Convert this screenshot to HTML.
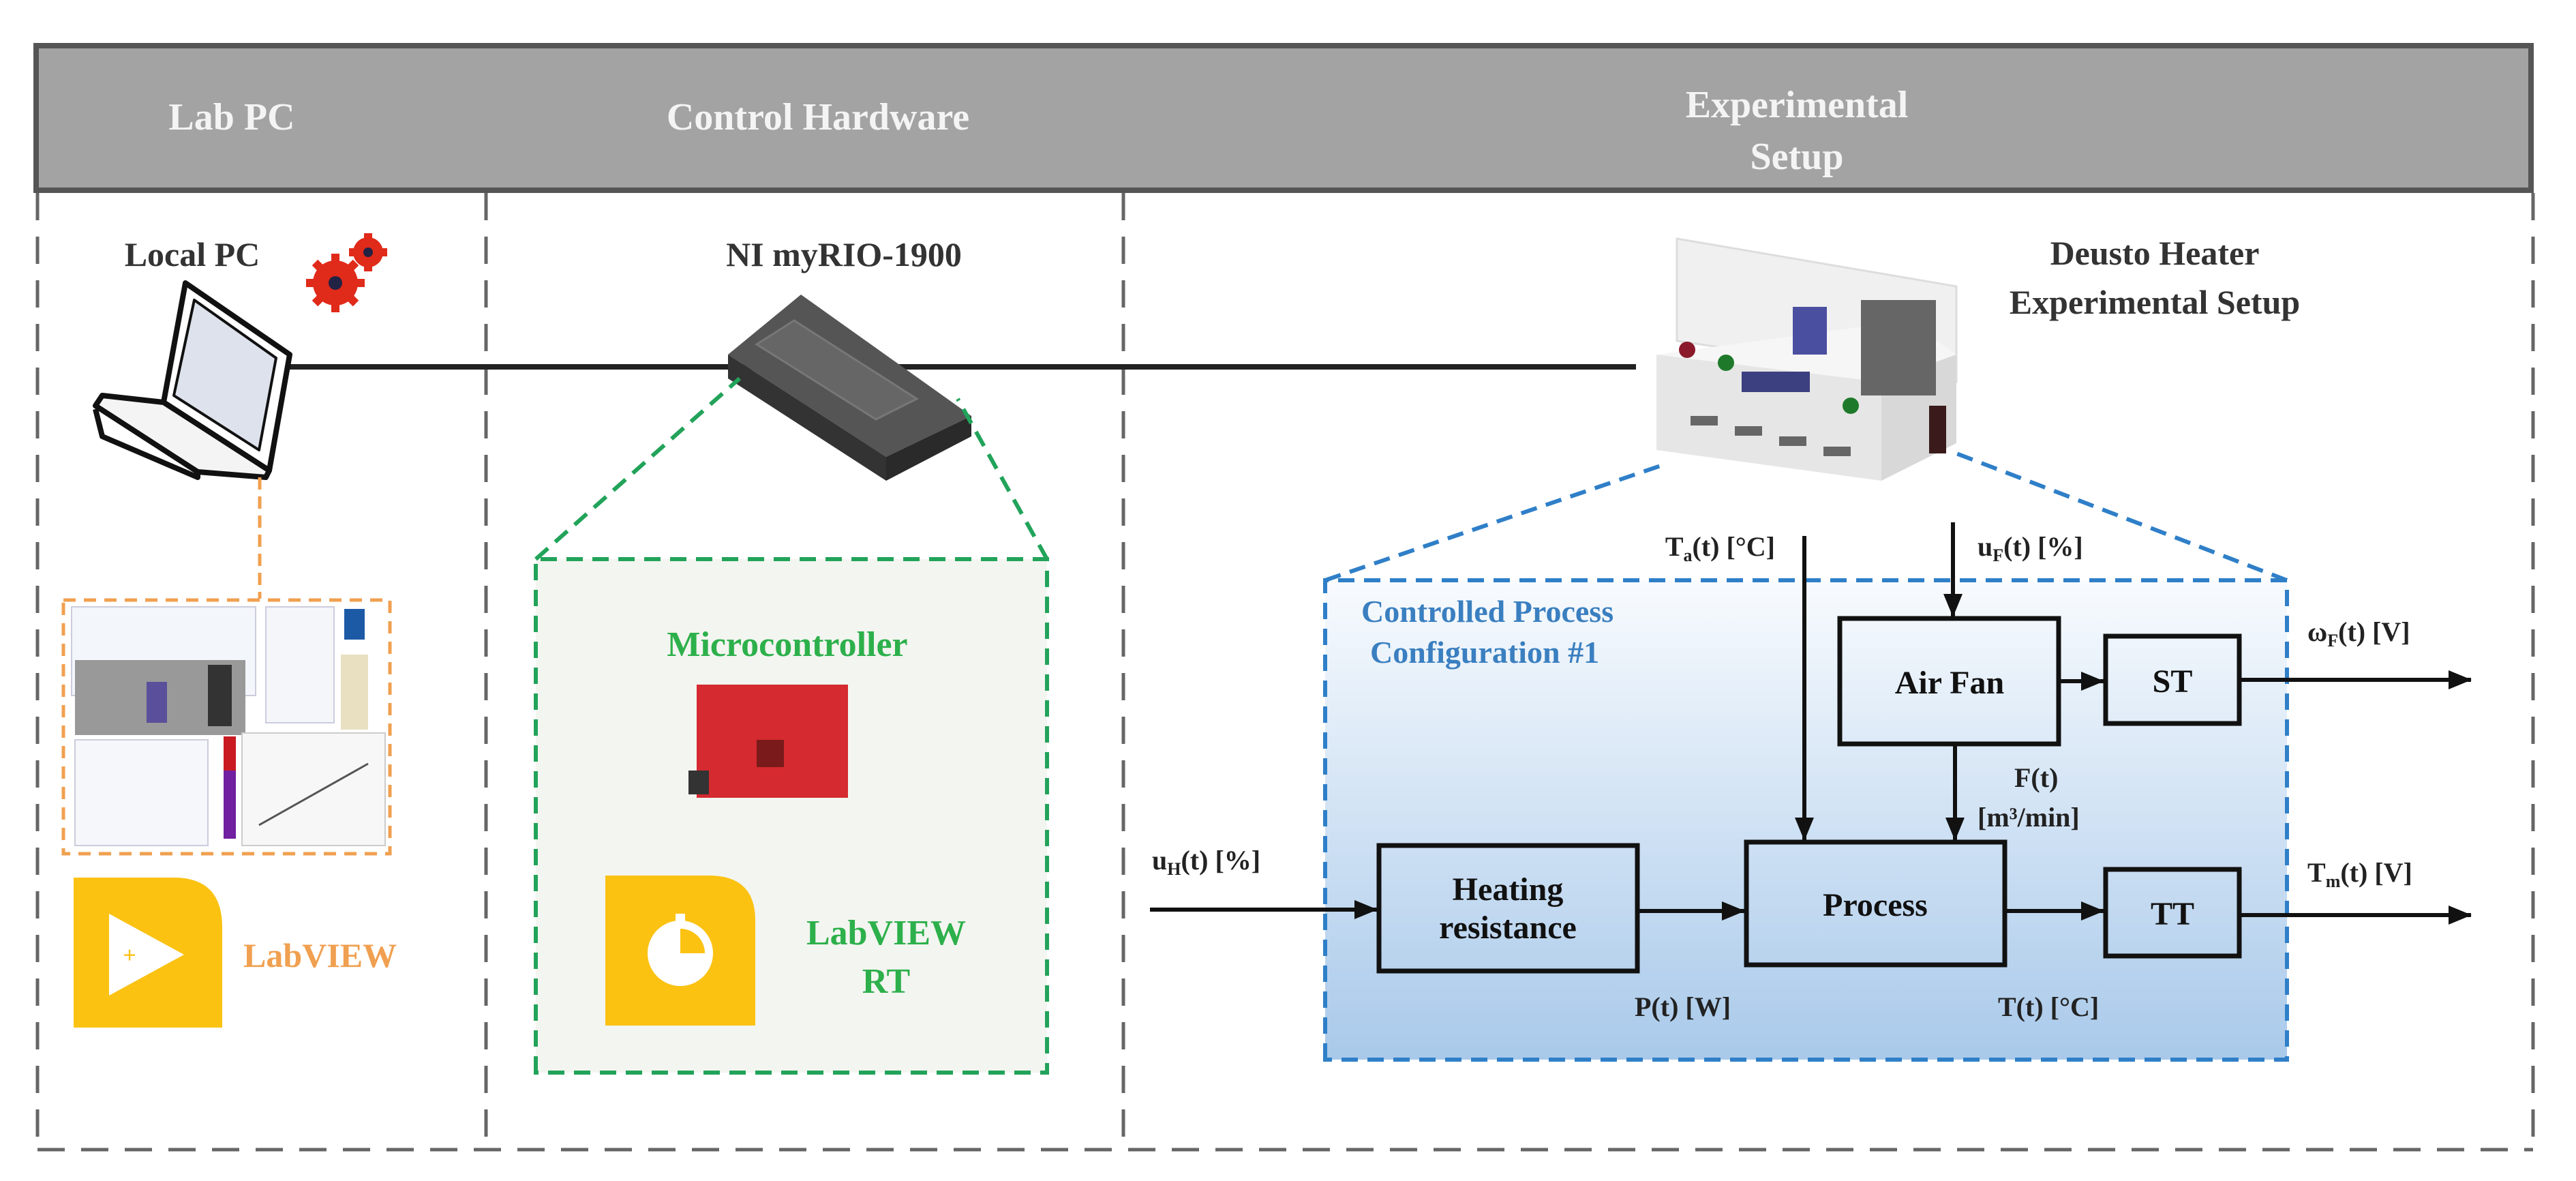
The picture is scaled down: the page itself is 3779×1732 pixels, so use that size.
<!DOCTYPE html>
<html><head><meta charset="utf-8"><style>html,body{margin:0;padding:0;background:#fff}svg{display:block}</style></head>
<body>
<svg width="3779" height="1732" viewBox="0 0 3779 1732" xmlns="http://www.w3.org/2000/svg" font-family="Liberation Serif, serif" font-weight="bold">
<defs>
<linearGradient id="bg" x1="0" y1="0" x2="0" y2="1"><stop offset="0" stop-color="#f8fbfe"/><stop offset="1" stop-color="#a9c9ea"/></linearGradient>
<marker id="ar" markerWidth="34" markerHeight="28" refX="33" refY="14" orient="auto" markerUnits="userSpaceOnUse" viewBox="0 0 34 28"><path d="M0,0 L34,14 L0,28 z" fill="#111"/></marker>
</defs>
<!-- header -->
<rect x="53" y="67" width="3660" height="212" fill="#a3a3a3" stroke="#555" stroke-width="8"/>
<g fill="#f4f4f4" font-size="56" text-anchor="middle">
<text x="340" y="190">Lab PC</text>
<text x="1200" y="190">Control Hardware</text>
<text x="2636" y="172">Experimental</text>
<text x="2636" y="248">Setup</text>
</g>
<!-- frame dashed -->
<g stroke="#666" stroke-width="5" stroke-dasharray="40,24" fill="none">
<line x1="55" y1="283" x2="55" y2="1686"/>
<line x1="713" y1="283" x2="713" y2="1686"/>
<line x1="1648" y1="283" x2="1648" y2="1686"/>
<line x1="3716" y1="283" x2="3716" y2="1686"/>
<line x1="55" y1="1686" x2="3716" y2="1686"/>
</g>
<!-- connecting line -->
<line x1="415" y1="538" x2="2400" y2="538" stroke="#222" stroke-width="8"/>
<!-- labels top -->
<g fill="#333" font-size="50" text-anchor="middle">
<text x="282" y="390">Local PC</text>
<text x="1238" y="390">NI myRIO-1900</text>
<text x="3161" y="388">Deusto Heater</text>
<text x="3161" y="460">Experimental Setup</text>
</g>
<!-- gears -->
<g fill="#e02a1a">
<circle cx="492" cy="415" r="33"/><circle cx="540" cy="370" r="22"/>
<g stroke="#e02a1a" stroke-width="12"><line x1="492" y1="372" x2="492" y2="458"/><line x1="449" y1="415" x2="535" y2="415"/><line x1="462" y1="385" x2="522" y2="445"/><line x1="462" y1="445" x2="522" y2="385"/>
<line x1="540" y1="342" x2="540" y2="398"/><line x1="512" y1="370" x2="568" y2="370"/></g>
<circle cx="492" cy="415" r="10" fill="#224"/><circle cx="540" cy="370" r="7" fill="#224"/>
</g>
<!-- laptop -->
<g stroke="#111" stroke-width="8" fill="#fff" stroke-linejoin="round">
<path d="M272 415 L425 520 L395 690 L240 590 Z" fill="#fff"/>
<path d="M285 440 L405 525 L380 660 L255 580 Z" fill="#dde2ec" stroke-width="4"/>
<path d="M240 590 L395 690 L390 700 L290 692 L140 595 L150 580 Z" fill="#f4f4f4"/>
<path d="M140 600 L150 640 L290 700 L290 692" fill="none"/>
</g>
<!-- myRIO -->
<g>
<path d="M1175 432 L1425 610 L1300 670 L1068 520 Z" fill="#555"/>
<path d="M1068 520 L1300 670 L1300 705 L1068 555 Z" fill="#333"/>
<path d="M1300 670 L1425 610 L1425 640 L1300 705 Z" fill="#2a2a2a"/>
<path d="M1165 470 L1345 585 L1285 615 L1110 505 Z" fill="#666" stroke="#777" stroke-width="3"/>
</g>
<!-- orange -->
<line x1="381" y1="700" x2="381" y2="878" stroke="#f0a050" stroke-width="5" stroke-dasharray="18,10"/>
<rect x="93" y="880" width="479" height="372" fill="#fff" stroke="#f0a050" stroke-width="5" stroke-dasharray="18,12"/>
<g>
<rect x="105" y="890" width="270" height="130" fill="#f3f6fa" stroke="#ccd" stroke-width="2"/>
<rect x="110" y="968" width="250" height="110" fill="#999"/>
<rect x="215" y="1000" width="30" height="60" fill="#5a4f9a"/>
<rect x="305" y="975" width="35" height="90" fill="#333"/>
<rect x="390" y="890" width="100" height="170" fill="#f4f6fa" stroke="#ccd" stroke-width="2"/>
<rect x="505" y="893" width="30" height="45" fill="#1d5aa6"/>
<rect x="500" y="960" width="40" height="110" fill="#e8e0c0"/>
<rect x="110" y="1085" width="195" height="155" fill="#f5f7fa" stroke="#ccd" stroke-width="2"/>
<rect x="328" y="1080" width="18" height="150" fill="#7020a0"/>
<rect x="328" y="1080" width="18" height="50" fill="#c81a20"/>
<rect x="355" y="1075" width="210" height="165" fill="#f7f7f7" stroke="#ccc" stroke-width="2"/>
<line x1="380" y1="1210" x2="540" y2="1120" stroke="#555" stroke-width="3"/>
</g>
<path d="M108 1287 L255 1287 Q326 1287 326 1360 L326 1507 L108 1507 Z" fill="#fbc212"/>
<path d="M160 1340 L270 1400 L160 1460 Z" fill="#fff"/>
<text x="190" y="1412" fill="#fbc212" font-size="34" text-anchor="middle">+</text>
<text x="357" y="1418" fill="#f0a050" font-size="50">LabVIEW</text>
<!-- green -->
<rect x="786" y="820" width="750" height="753" fill="#f3f5f0"/>
<g stroke="#22a35a" stroke-width="6" stroke-dasharray="24,14" fill="none">
<path d="M786 1573 L786 820 L1536 820 L1536 1573 Z"/>
<line x1="786" y1="820" x2="1085" y2="555"/>
<line x1="1536" y1="820" x2="1405" y2="585"/>
</g>
<text x="1155" y="962" fill="#2db04b" font-size="52" text-anchor="middle">Microcontroller</text>
<rect x="1022" y="1004" width="222" height="166" fill="#d42a30"/>
<rect x="1010" y="1130" width="30" height="35" fill="#333"/>
<rect x="1110" y="1085" width="40" height="40" fill="#7a1a1a"/>
<path d="M888 1284 L1040 1284 Q1108 1284 1108 1350 L1108 1504 L888 1504 Z" fill="#fbc212"/>
<circle cx="998" cy="1398" r="48" fill="#fff"/><rect x="991" y="1340" width="14" height="14" fill="#fff"/>
<path d="M998 1398 L998 1362 A36 36 0 0 1 1034 1398 Z" fill="#fbc212"/>
<text x="1300" y="1385" fill="#2db04b" font-size="52" text-anchor="middle">LabVIEW</text>
<text x="1300" y="1456" fill="#2db04b" font-size="52" text-anchor="middle">RT</text>
<!-- blue -->
<rect x="1944" y="851" width="1411" height="703" fill="url(#bg)"/>
<g stroke="#2f7fc8" stroke-width="6" stroke-dasharray="24,14" fill="none">
<path d="M1944 1554 L1944 851 L3355 851 L3355 1554 Z"/>
<line x1="1944" y1="851" x2="2445" y2="680"/>
<line x1="3355" y1="851" x2="2870" y2="665"/>
</g>
<!-- heater device -->
<g>
<path d="M2460 350 L2870 420 L2870 560 L2460 500 Z" fill="#f0f0f0" stroke="#ddd" stroke-width="3"/>
<path d="M2430 520 L2760 560 L2760 705 L2430 660 Z" fill="#e6e6e6"/>
<path d="M2430 520 L2800 470 L2870 520 L2760 560 Z" fill="#f6f6f6"/>
<path d="M2760 560 L2870 520 L2870 650 L2760 705 Z" fill="#d8d8d8"/>
<rect x="2730" y="440" width="110" height="140" fill="#666"/>
<rect x="2630" y="450" width="50" height="70" fill="#4a4fa0"/>
<rect x="2555" y="545" width="100" height="30" fill="#3c3f80"/>
<circle cx="2475" cy="513" r="12" fill="#8a1a2a"/><circle cx="2532" cy="532" r="12" fill="#1e7a2a"/><circle cx="2715" cy="595" r="12" fill="#1e7a2a"/>
<g fill="#666"><rect x="2480" y="610" width="40" height="14"/><rect x="2545" y="625" width="40" height="14"/><rect x="2610" y="640" width="40" height="14"/><rect x="2675" y="655" width="40" height="14"/></g>
<rect x="2830" y="595" width="25" height="70" fill="#3a1a1a"/>
</g>
<!-- blocks -->
<g fill="none" stroke="#111" stroke-width="7">
<rect x="2699" y="907" width="321" height="184"/>
<rect x="3089" y="933" width="196" height="128"/>
<rect x="2023" y="1240" width="379" height="184"/>
<rect x="2562" y="1235" width="379" height="180"/>
<rect x="3089" y="1275" width="196" height="127"/>
</g>
<g stroke="#111" stroke-width="6" marker-end="url(#ar)">
<line x1="2647" y1="786" x2="2647" y2="1232"/>
<line x1="2865" y1="766" x2="2865" y2="904"/>
<line x1="2868" y1="1091" x2="2868" y2="1232"/>
<line x1="3020" y1="999" x2="3086" y2="999"/>
<line x1="3285" y1="997" x2="3625" y2="997"/>
<line x1="1687" y1="1334" x2="2020" y2="1334"/>
<line x1="2402" y1="1336" x2="2559" y2="1336"/>
<line x1="2941" y1="1336" x2="3086" y2="1336"/>
<line x1="3285" y1="1342" x2="3625" y2="1342"/>
</g>
<g fill="#111" font-size="48" text-anchor="middle">
<text x="2860" y="1017">Air Fan</text>
<text x="3187" y="1015">ST</text>
<text x="2212" y="1320">Heating</text>
<text x="2212" y="1376">resistance</text>
<text x="2751" y="1343">Process</text>
<text x="3187" y="1356">TT</text>
</g>
<g fill="#222" font-size="40">
<text x="2604" y="815" text-anchor="end">T<tspan font-size="26" dy="8">a</tspan><tspan dy="-8">(t) [°C]</tspan></text>
<text x="2901" y="815">u<tspan font-size="26" dy="8">F</tspan><tspan dy="-8">(t) [%]</tspan></text>
<text x="3385" y="940">ω<tspan font-size="26" dy="8">F</tspan><tspan dy="-8">(t) [V]</tspan></text>
<text x="3385" y="1293">T<tspan font-size="26" dy="8">m</tspan><tspan dy="-8">(t) [V]</tspan></text>
<text x="1690" y="1275">u<tspan font-size="26" dy="8">H</tspan><tspan dy="-8">(t) [%]</tspan></text>
<text x="2955" y="1154">F(t)</text>
<text x="2901" y="1212">[m³/min]</text>
<text x="2398" y="1490">P(t) [W]</text>
<text x="2931" y="1490">T(t) [°C]</text>
</g>
<g fill="#3a7fc0" font-size="46">
<text x="1997" y="912">Controlled Process</text>
<text x="2010" y="972">Configuration #1</text>
</g>
</svg>
</body></html>
